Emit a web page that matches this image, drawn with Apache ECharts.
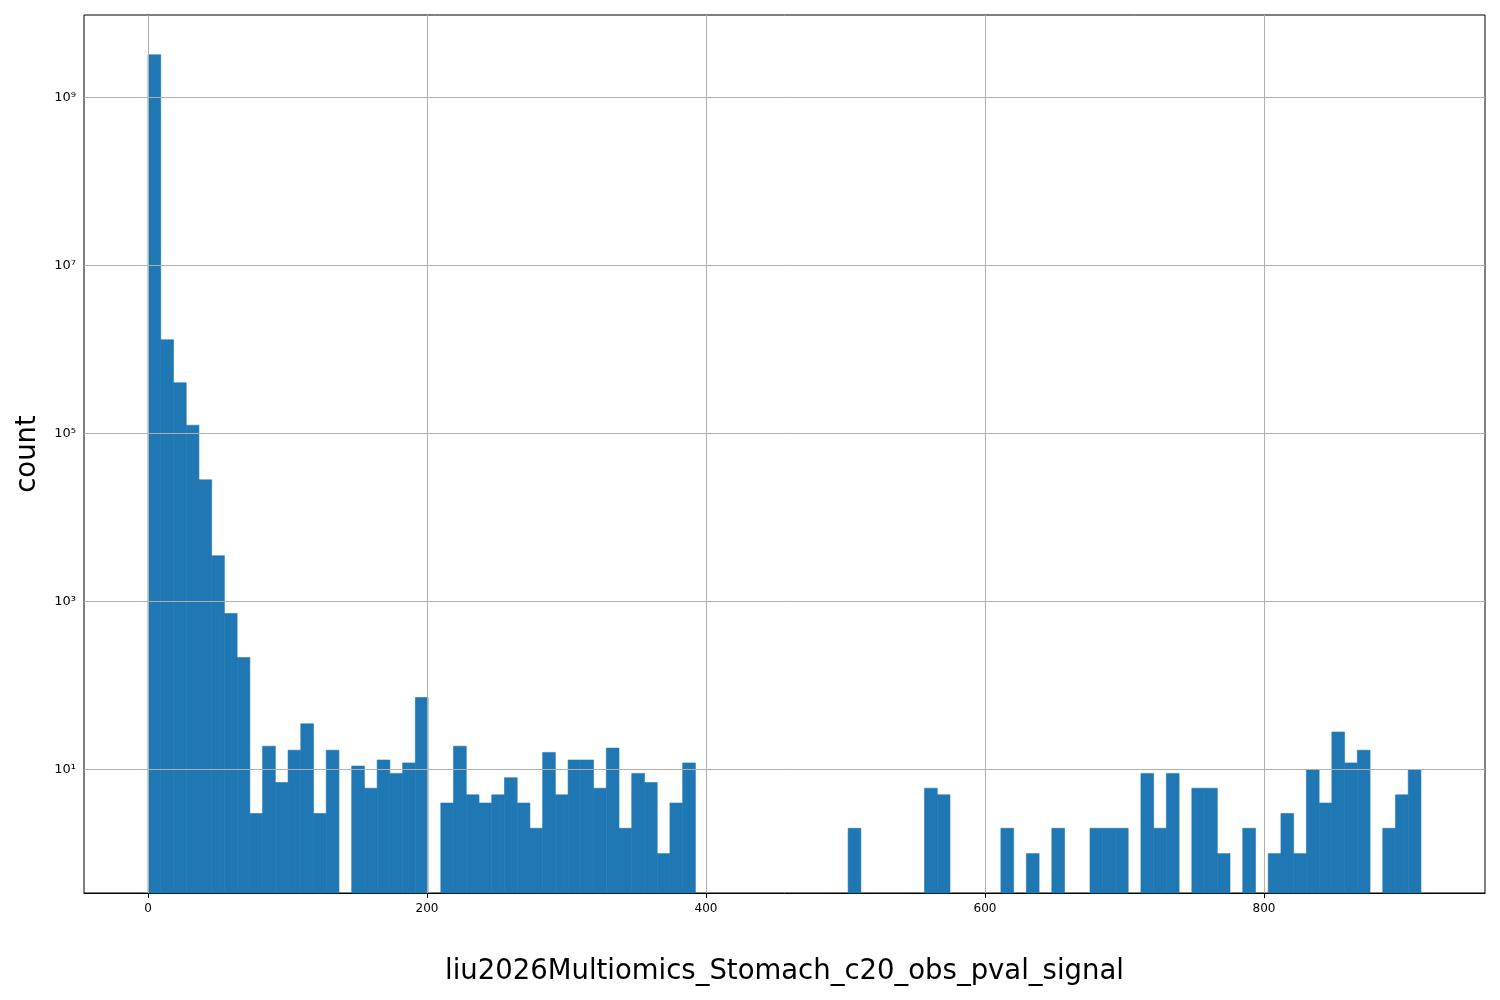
<!DOCTYPE html>
<html>
<head>
<meta charset="utf-8">
<script src="https://cdn.jsdelivr.net/npm/echarts@6/dist/echarts.min.js"></script>
<style>html,body{margin:0;padding:0;background:#fff}#main{width:1500px;height:1000px}</style>
</head>
<body>
<div id="main"></div>
<script>
// histogram: 100 bins from 0 to ~912.5
var binStart = 0;
var binWidth = 9.125;
var counts = [
  3.2e9, 1.3e6, 4e5, 1.25e5, 2.8e4, 3500, 720, 215, 3, 19,
  7, 17, 35, 3, 17, 0, 11, 6, 13, 9,
  12, 72, 0, 4, 19, 5, 4, 5, 8, 4,
  2, 16, 5, 13, 13, 6, 18, 2, 9, 7,
  1, 4, 12, 0, 0, 0, 0, 0, 0, 0,
  0, 0, 0, 0, 0, 2, 0, 0, 0, 0,
  0, 6, 5, 0, 0, 0, 0, 2, 0, 1,
  0, 2, 0, 0, 2, 2, 2, 0, 9, 2,
  9, 0, 6, 6, 1, 0, 2, 0, 1, 3,
  1, 10, 4, 28, 12, 17, 0, 2, 5, 10
];
var xTicks = [0, 200, 400, 600, 800];
var yTicks = [10, 1e3, 1e5, 1e7, 1e9];
var supers = {'1': '¹', '3': '³', '5': '⁵', '7': '⁷', '9': '⁹'};

var data = [];
for (var i = 0; i < counts.length; i++) {
    if (counts[i] > 0) data.push([binStart + i * binWidth, binStart + (i + 1) * binWidth, counts[i]]);
}
var yMin = 0.34, yMax = 9.5e9;

var myChart = echarts.init(document.getElementById('main'));
var option = {
    animation: false,
    grid: {left: 84, right: 15, top: 15, bottom: 107, show: true, borderColor: '#000', borderWidth: 1},
    xAxis: {
        type: 'value', min: -45.9, max: 958.4,
        name: 'liu2026Multiomics_Stomach_c20_obs_pval_signal',
        nameLocation: 'middle', nameGap: 65,
        nameTextStyle: {fontSize: 27.5, color: '#000', fontFamily: 'DejaVu Sans'},
        axisLine: {show: true, lineStyle: {color: '#000'}},
        axisTick: {show: true, length: 5, customValues: xTicks, lineStyle: {color: '#000'}},
        axisLabel: {customValues: xTicks, color: '#000', fontSize: 12, fontFamily: 'DejaVu Sans', margin: 10},
        splitLine: {show: false}
    },
    yAxis: {
        type: 'log', logBase: 10, min: yMin, max: yMax,
        name: 'count', nameLocation: 'middle', nameGap: 42,
        nameTextStyle: {fontSize: 27.5, color: '#000', fontFamily: 'DejaVu Sans'},
        axisLine: {show: true, lineStyle: {color: '#000'}},
        axisTick: {show: true, length: 5, customValues: yTicks, lineStyle: {color: '#000'}},
        axisLabel: {
            customValues: yTicks, color: '#000', fontSize: 13, fontFamily: 'DejaVu Sans', margin: 8,
            formatter: function (v) { var e = Math.round(Math.log10(v)); return '10' + (supers[String(e)] || e); }
        },
        splitLine: {show: false}
    },
    series: [{
        type: 'custom',
        data: data,
        encode: {x: [0, 1], y: 2},
        renderItem: function (params, api) {
            var p0 = api.coord([api.value(0), api.value(2)]);
            var p1 = api.coord([api.value(1), yMin]);
            return {
                type: 'rect',
                shape: {x: p0[0], y: p0[1], width: p1[0] - p0[0], height: p1[1] - p0[1]},
                style: {fill: '#1f77b4', stroke: '#1f77b4', lineWidth: 0.6}
            };
        },
        z: 1
    }, {
        type: 'line', data: [], silent: true, z: 3,
        markLine: {
            silent: true, symbol: 'none', label: {show: false},
            lineStyle: {color: '#b0b0b0', type: 'solid', width: 1},
            data: xTicks.map(function (v) { return {xAxis: v}; }).concat(yTicks.map(function (v) { return {yAxis: v}; }))
        }
    }]
};
myChart.setOption(option);
</script>
</body>
</html>
